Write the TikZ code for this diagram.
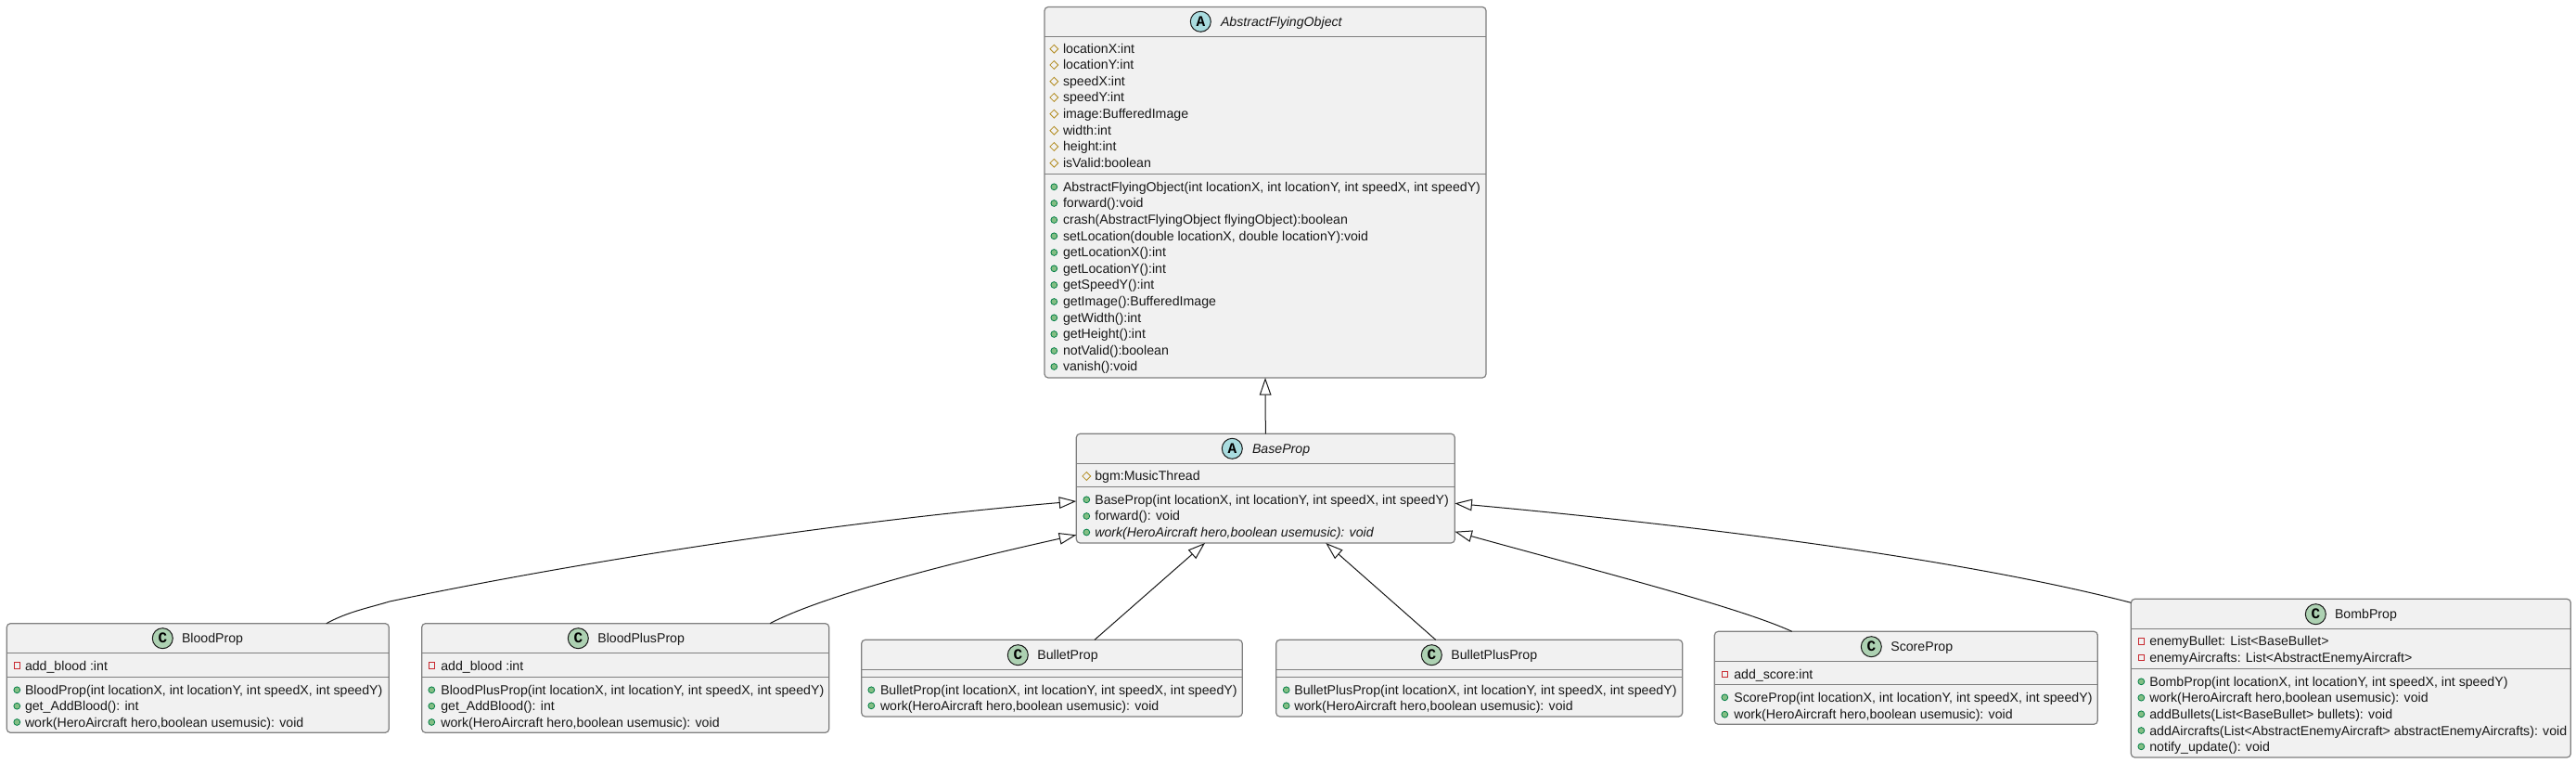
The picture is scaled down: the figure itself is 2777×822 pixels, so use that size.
\documentclass[tikz,border=0pt]{standalone}
\usepackage{fontspec}
\setmainfont{Liberation Sans}
\newfontfamily\iconfont{Liberation Mono}
\usetikzlibrary{arrows.meta,calc,shapes.geometric}
\definecolor{boxfill}{HTML}{F1F1F1}
\definecolor{boxline}{HTML}{7F7F7F}
\definecolor{ink}{HTML}{181818}
\definecolor{absfill}{HTML}{A9DCDF}
\definecolor{clsfill}{HTML}{ADD1B2}
\definecolor{protcol}{HTML}{B38D22}
\definecolor{privcol}{HTML}{C82930}
\definecolor{publine}{HTML}{038048}
\definecolor{pubfill}{HTML}{84BE84}
\tikzset{
  umlbox/.style={draw=boxline,fill=boxfill,line width=0.6pt,rounded corners=2pt,anchor=north west,inner sep=0pt,outer sep=0pt},
  umlsep/.style={draw=boxline,line width=0.6pt},
  rowtext/.style={anchor=base west,inner sep=0pt,outer sep=0pt,text=ink,font=\fontsize{7.08pt}{8pt}\selectfont},
  rowital/.style={rowtext,font=\fontsize{7.08pt}{8pt}\selectfont\itshape},
  pubicon/.style={circle,draw=publine,fill=pubfill,line width=0.4pt,minimum size=3.4pt,inner sep=0pt},
  proticon/.style={diamond,draw=protcol,line width=0.4pt,minimum size=4.6pt,inner sep=0pt},
  privicon/.style={rectangle,draw=privcol,line width=0.45pt,minimum size=3.2pt,inner sep=0pt},
  absicon/.style={circle,draw=ink,fill=absfill,line width=0.5pt,minimum size=11pt,inner sep=0pt,text=black,font=\fontsize{8pt}{8pt}\iconfont\bfseries},
  clsicon/.style={circle,draw=ink,fill=clsfill,line width=0.5pt,minimum size=11pt,inner sep=0pt,text=black,font=\fontsize{8pt}{8pt}\iconfont\bfseries},
  gen/.style={draw=ink,line width=0.5pt,-{Triangle[open,fill=white,length=9.3pt,width=6.3pt]}},
}
\newcount\rowid
\newcommand\classbox[7]{%
  \node[umlbox,minimum width={(#4-#2)*0.5pt},minimum height={(#5-#3)*0.5pt}] (#1) at (#2,#3) {};
  \draw[umlsep] (#2,#6) -- (#4,#6);
  \draw[umlsep] (#2,#7) -- (#4,#7);
}
\newcommand\classhead[7]{% name, icon style, letter, icon x, y, text x, text style
  \node[#2] (#1icon) at (#4,#5) {#3};
  \node[#7] (#1title) at (#6,#5+5) {#1};
}
\newcommand\row[6][rowtext]{% text style, icon style, icon x, text x, y, text
  \global\advance\rowid by 1
  \node[#2] (ic\the\rowid) at (#3,#5) {};
  \node[#1] (tx\the\rowid) at (#4,#5+5) {#6};
}
\begin{document}
\begin{tikzpicture}[x=0.5pt,y=-0.5pt]
\useasboundingbox (0,0) rectangle (2777,822);
\path[fill=white] (0,0) rectangle (2777,822);

% AbstractFlyingObject
\classbox{AbstractFlyingObject}{1126}{7.5}{1602}{407}{39.5}{187.5}
\classhead{AbstractFlyingObject}{absicon}{A}{1294.3}{23.3}{1316}{rowital}
\row{proticon}{1136.3}{1146}{52.7}{locationX:int}
\row{proticon}{1136.3}{1146}{70}{locationY:int}
\row{proticon}{1136.3}{1146}{87.7}{speedX:int}
\row{proticon}{1136.3}{1146}{105}{speedY:int}
\row{proticon}{1136.3}{1146}{122.7}{image:BufferedImage}
\row{proticon}{1136.3}{1146}{140.7}{width:int}
\row{proticon}{1136.3}{1146}{158}{height:int}
\row{proticon}{1136.3}{1146}{175.7}{isValid:boolean}
\row{pubicon}{1136.3}{1146}{201.3}{AbstractFlyingObject(int locationX, int locationY, int speedX, int speedY)}
\row{pubicon}{1136.3}{1146}{219}{forward():void}
\row{pubicon}{1136.3}{1146}{237}{crash(AbstractFlyingObject flyingObject):boolean}
\row{pubicon}{1136.3}{1146}{254.3}{setLocation(double locationX, double locationY):void}
\row{pubicon}{1136.3}{1146}{272}{getLocationX():int}
\row{pubicon}{1136.3}{1146}{289.3}{getLocationY():int}
\row{pubicon}{1136.3}{1146}{307}{getSpeedY():int}
\row{pubicon}{1136.3}{1146}{325}{getImage():BufferedImage}
\row{pubicon}{1136.3}{1146}{342.3}{getWidth():int}
\row{pubicon}{1136.3}{1146}{360}{getHeight():int}
\row{pubicon}{1136.3}{1146}{378}{notValid():boolean}
\row{pubicon}{1136.3}{1146}{395}{vanish():void}

% BaseProp
\classbox{BaseProp}{1160.3}{467.3}{1568.3}{585}{499.3}{524.3}
\classhead{BaseProp}{absicon}{A}{1328.3}{483.3}{1350}{rowital}
\row{proticon}{1171.3}{1180.3}{513}{bgm:MusicThread}
\row{pubicon}{1171.3}{1180.3}{538.3}{BaseProp(int locationX, int locationY, int speedX, int speedY)}
\row{pubicon}{1171.3}{1180.3}{556}{forward(): void}
\row[rowital]{pubicon}{1171.3}{1180.3}{573.5}{work(HeroAircraft hero,boolean usemusic): void}

% BloodProp
\classbox{BloodProp}{7.3}{671.7}{419.3}{789.3}{703.3}{729.3}
\classhead{BloodProp}{clsicon}{C}{175.3}{687.7}{196}{rowtext}
\row{privicon}{18.3}{27}{717}{add\_blood :int}
\row{pubicon}{18.3}{27}{743.3}{BloodProp(int locationX, int locationY, int speedX, int speedY)}
\row{pubicon}{18.3}{27}{760.7}{get\_AddBlood(): int}
\row{pubicon}{18.3}{27}{778}{work(HeroAircraft hero,boolean usemusic): void}

% BloodPlusProp
\classbox{BloodPlusProp}{454.7}{671.7}{893.7}{789.3}{703.3}{729.3}
\classhead{BloodPlusProp}{clsicon}{C}{623.3}{687.7}{644.3}{rowtext}
\row{privicon}{465.3}{475.3}{717}{add\_blood :int}
\row{pubicon}{465.3}{475.3}{743.3}{BloodPlusProp(int locationX, int locationY, int speedX, int speedY)}
\row{pubicon}{465.3}{475.3}{760.7}{get\_AddBlood(): int}
\row{pubicon}{465.3}{475.3}{778}{work(HeroAircraft hero,boolean usemusic): void}

% BulletProp
\classbox{BulletProp}{928.7}{689.3}{1339.3}{772}{721.3}{729.3}
\classhead{BulletProp}{clsicon}{C}{1097.3}{705.7}{1118.3}{rowtext}
\row{pubicon}{939.3}{949}{743.3}{BulletProp(int locationX, int locationY, int speedX, int speedY)}
\row{pubicon}{939.3}{949}{760.3}{work(HeroAircraft hero,boolean usemusic): void}

% BulletPlusProp
\classbox{BulletPlusProp}{1375.7}{689.3}{1813.7}{772}{721.3}{729.3}
\classhead{BulletPlusProp}{clsicon}{C}{1543.3}{705.7}{1564.3}{rowtext}
\row{pubicon}{1386.7}{1395.3}{743.3}{BulletPlusProp(int locationX, int locationY, int speedX, int speedY)}
\row{pubicon}{1386.7}{1395.3}{760.3}{work(HeroAircraft hero,boolean usemusic): void}

% ScoreProp
\classbox{ScoreProp}{1848.3}{680.3}{2261.3}{780.3}{712.3}{737.3}
\classhead{ScoreProp}{clsicon}{C}{2017.3}{696.7}{2038.3}{rowtext}
\row{privicon}{1859.3}{1869.3}{726.3}{add\_score:int}
\row{pubicon}{1859.3}{1869.3}{751.3}{ScoreProp(int locationX, int locationY, int speedX, int speedY)}
\row{pubicon}{1859.3}{1869.3}{769.7}{work(HeroAircraft hero,boolean usemusic): void}

% BombProp
\classbox{BombProp}{2297.3}{645.3}{2771.3}{816}{677.3}{720.3}
\classhead{BombProp}{clsicon}{C}{2496.3}{661.7}{2517}{rowtext}
\row{privicon}{2308.3}{2317.3}{691}{enemyBullet: List<BaseBullet>}
\row{privicon}{2308.3}{2317.3}{708.3}{enemyAircrafts: List<AbstractEnemyAircraft>}
\row{pubicon}{2308.3}{2317.3}{734.3}{BombProp(int locationX, int locationY, int speedX, int speedY)}
\row{pubicon}{2308.3}{2317.3}{751.7}{work(HeroAircraft hero,boolean usemusic): void}
\row{pubicon}{2308.3}{2317.3}{769.3}{addBullets(List<BaseBullet> bullets): void}
\row{pubicon}{2308.3}{2317.3}{787}{addAircrafts(List<AbstractEnemyAircraft> abstractEnemyAircrafts): void}
\row{pubicon}{2308.3}{2317.3}{804.3}{notify\_update(): void}

% Connectors
\draw[gen] (BaseProp.north) -- (AbstractFlyingObject.south);
\draw[gen] ($(BloodProp.north west)+(344.5,0)$) .. controls (375,659) and (397,655) .. (420,648)
   .. controls (620,606) and (900,562) .. ($(BaseProp.north west)+(0,72.7)$);
\draw[gen] ($(BloodPlusProp.north west)+(375.3,0)$) .. controls (890,640) and (1040,603) .. ($(BaseProp.north west)+(0,109)$);
\draw[gen] ($(BulletProp.north west)+(251.3,0)$) -- ($(BaseProp.south west)+(138.7,0)$);
\draw[gen] ($(BulletPlusProp.north west)+(172,0)$) -- ($(BaseProp.south west)+(269,0)$);
\draw[gen] ($(ScoreProp.north west)+(83.4,0)$) .. controls (1875,654) and (1710,612) .. ($(BaseProp.north east)+(0,105.4)$);
\draw[gen] ($(BombProp.north west)+(0,4)$) .. controls (2130,606) and (1870,570) .. ($(BaseProp.north east)+(0,75)$);
\end{tikzpicture}
\end{document}
